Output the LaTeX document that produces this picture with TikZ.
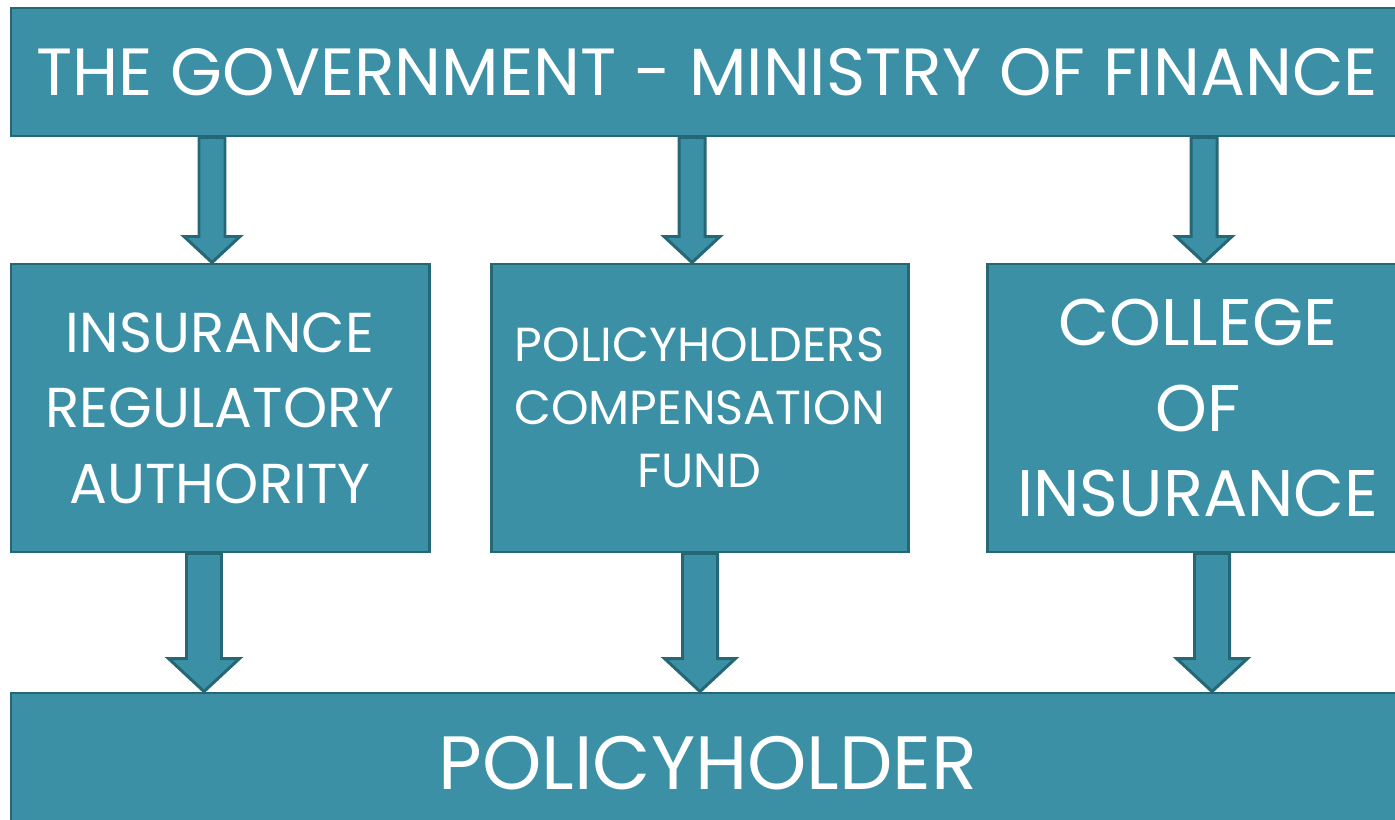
\documentclass[tikz,border=0pt]{standalone}
\usepackage{fontspec}
\setmainfont{Poppins}
\usepackage{tikz}
\usetikzlibrary{calc}

\definecolor{tealfill}{RGB}{59,144,166}
\definecolor{tealline}{RGB}{38,103,118}

\tikzset{
  block/.style={draw=tealline, fill=tealfill, line width=1.7pt, text=white,
    align=center, inner sep=0pt},
  flow/.style={draw=tealline, fill=tealfill, line width=1.7pt, line join=miter}
}

% block arrow: #1 tail, #2 tip, #3 half shaft, #4 half head, #5 head length
\newcommand{\flowarrow}[5]{%
  \draw[flow] ($(#1)+(-#3,0)$) -- ($(#2)+(-#3,#5)$) -- ($(#2)+(-#4,#5)$) -- (#2)
    -- ($(#2)+(#4,#5)$) -- ($(#2)+(#3,#5)$) -- ($(#1)+(#3,0)$) -- cycle;}

\begin{document}
\begin{tikzpicture}[x=0.02cm, y=0.02cm]
  \useasboundingbox (0,0) rectangle (1395,819);
  \clip (0,0) rectangle (1395,819);

  \node[block, minimum width=1392*0.02cm, minimum height=128*0.02cm,
    font=\fontsize{38}{44}\selectfont] (gov) at (707,747)
    {THE GOVERNMENT - MINISTRY OF FINANCE};

  \node[block, minimum width=418*0.02cm, minimum height=288*0.02cm,
    font=\fontsize{32}{43}\selectfont] (ira) at (220,411)
    {INSURANCE\\REGULATORY\\AUTHORITY};
  \node[block, minimum width=417*0.02cm, minimum height=288*0.02cm,
    font=\fontsize{27.2}{36}\selectfont] (pcf) at (699.5,411)
    {POLICYHOLDERS\\COMPENSATION\\FUND};
  \node[block, minimum width=422*0.02cm, minimum height=288*0.02cm,
    font=\fontsize{37.5}{48.5}\selectfont] (coi) at (1198,411)
    {COLLEGE\\OF\\INSURANCE};

  \node[block, minimum width=1394*0.02cm, minimum height=140*0.02cm,
    font=\fontsize{43}{50}\selectfont] (holder) at (708,56)
    {POLICYHOLDER};

  % arrows from the ministry
  \coordinate (t1) at ($(gov.south -| ira.north)+(-8,0)$);
  \coordinate (h1) at ($(ira.north)+(-8,0)$);
  \coordinate (t2) at ($(gov.south -| pcf.north)+(-7.5,0)$);
  \coordinate (h2) at ($(pcf.north)+(-7.5,0)$);
  \coordinate (t3) at ($(gov.south -| coi.north)+(6,0)$);
  \coordinate (h3) at ($(coi.north)+(6,0)$);
  \flowarrow{t1}{h1}{13}{28}{26}
  \flowarrow{t2}{h2}{13}{28}{26}
  \flowarrow{t3}{h3}{13}{28}{26}

  % arrows to the policyholder
  \coordinate (b1) at ($(ira.south)+(-16,0)$);
  \coordinate (p1) at ($(holder.north -| ira.south)+(-16,0)$);
  \coordinate (b2) at ($(pcf.south)+(0.5,0)$);
  \coordinate (p2) at ($(holder.north -| pcf.south)+(0.5,0)$);
  \coordinate (b3) at ($(coi.south)+(14,0)$);
  \coordinate (p3) at ($(holder.north -| coi.south)+(14,0)$);
  \flowarrow{b1}{p1}{17.5}{35.5}{33}
  \flowarrow{b2}{p2}{17.5}{35.5}{33}
  \flowarrow{b3}{p3}{17.5}{35.5}{33}
\end{tikzpicture}
\end{document}
